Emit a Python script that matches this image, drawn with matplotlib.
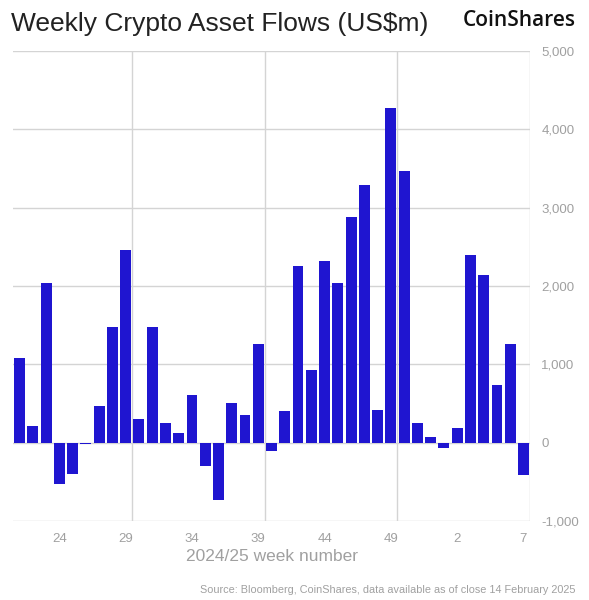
import matplotlib.pyplot as plt

# 2024/25 week numbers and weekly flows (US$m)
weeks = list(range(21, 53)) + list(range(1, 8))
flows = [1080, 217, 2043, -528, -404, -21, 460, 1472, 2460, 302,
         1472, 243, 115, 604, -294, -732, 502, 357, 1255, -106,
         396, 2255, 932, 2323, 2034, 2885, 3294, 417, 4272, 3468,
         243, 64, -64, 183, 2400, 2140, 740, 1255, -417]
tick_weeks = [24, 29, 34, 39, 44, 49, 2, 7]
y_ticks = [-1000, 0, 1000, 2000, 3000, 4000, 5000]

plt.rcParams['font.family'] = ['Liberation Sans', 'DejaVu Sans']

fig = plt.figure(figsize=(5.89, 6.0), dpi=100)
ax = fig.add_axes([0.022, 0.132, 0.878, 0.783])

x = list(range(len(weeks)))
ax.bar(x, flows, width=0.82, color='#1f15d0', zorder=3)

ax.set_xlim(-0.5, len(weeks) - 0.5)
ax.set_ylim(-1000, 5000)

# horizontal grid
for v in y_ticks:
    ax.axhline(v, color='#d4d4d4', lw=1, zorder=1)
# vertical grid every 10 weeks at category boundaries
for b in [8.5, 18.5, 28.5, 38.5]:
    ax.axvline(b, color='#d4d4d4', lw=1, zorder=1)

ax.set_xticks([weeks.index(w) for w in tick_weeks])
ax.set_xticklabels([str(w) for w in tick_weeks])
ax.set_yticks(y_ticks)
ax.set_yticklabels([f'{v:,}' for v in y_ticks])
ax.yaxis.tick_right()
ax.tick_params(axis='both', length=0, labelsize=9.5, colors='#a0a0a0')
ax.tick_params(axis='y', pad=8)
ax.tick_params(axis='x', pad=9)
for s in ax.spines.values():
    s.set_visible(False)

ax.set_xlabel('2024/25 week number', fontsize=12.5, color='#a0a0a0', labelpad=3)

fig.text(0.019, 0.948, 'Weekly Crypto Asset Flows (US$m)', fontsize=19,
         color='#222222', va='baseline', ha='left')
fig.text(0.977, 0.957, 'CoinShares', fontsize=15, fontweight='semibold',
         family=['Open Sans', 'Liberation Sans'],
         color='#111111', va='baseline', ha='right')
fig.text(0.977, 0.017, 'Source: Bloomberg, CoinShares, data available as of close 14 February 2025',
         fontsize=7.8, color='#a0a0a0', ha='right', va='center')

fig.savefig('out.png', dpi=100)
